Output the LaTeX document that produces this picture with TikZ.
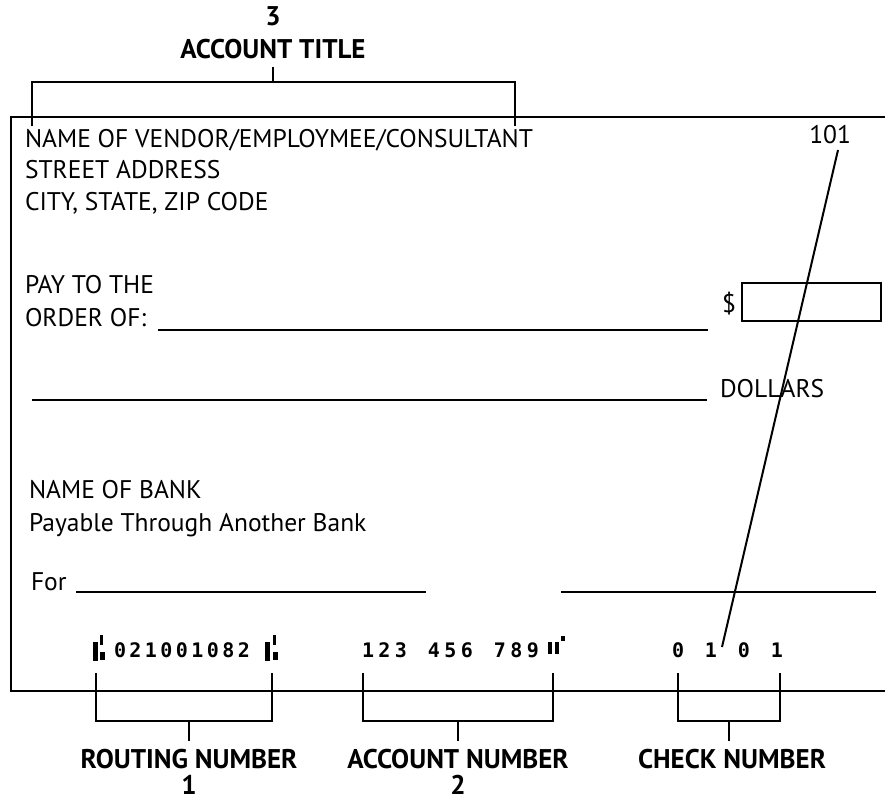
\documentclass[tikz,border=0pt]{standalone}
\usepackage{fontspec}
\setmainfont{PT Sans}
\newfontfamily\micrfont{DejaVu Sans Mono}
\newcommand\mdg[2]{\makebox[#1pt][l]{#2}}
\begin{document}
\begin{tikzpicture}[x=1pt,y=-1pt,line width=2pt,
  txt/.style={anchor=base west,inner sep=0pt,font=\fontsize{25.5}{30}\selectfont},
  lbl/.style={anchor=base,inner sep=0pt,font=\fontsize{27}{32}\selectfont\bfseries},
  micr/.style={anchor=base west,inner sep=0pt,font=\micrfont\fontsize{20}{24}\selectfont\bfseries},
  sym/.style={fill=black,draw=none},
  brk/.style={line width=2pt}]
\path[use as bounding box] (0,0) rectangle (885,801);

% check outline
\draw (885,117) -- (11,117) -- (11,691) -- (885,691);

% texts
\node[txt] (vendor) at (24,147) {NAME OF VENDOR/EMPLOYMEE/CONSULTANT};
\node[txt] (street) at (24,178) {STREET ADDRESS};
\node[txt] (city) at (24,210) {CITY, STATE, ZIP CODE};
\node[txt,anchor=base east] (num) at (852,143) {101};
\node[txt] (pay) at (24,293) {PAY TO THE};
\node[txt] (order) at (24,326) {ORDER OF:};
\node[txt] (dollar) at (721,312) {\$};
\node[draw,minimum width=139pt,minimum height=38pt,inner sep=0pt,anchor=north west] (amount) at (741,282) {};
\node[txt] (dollars) at (719,397) {DOLLARS};
\node[txt] (bank) at (28,498) {NAME OF BANK};
\node[txt] (payable) at (28,531) {Payable Through Another Bank};
\node[txt] (for) at (30,590) {For};

% lines
\draw (158,330) -- (708,330);
\draw (32,400) -- (707,400);
\draw (76,592) -- (426,592);
\draw (561,592) -- (876,592);

% MICR routing
\fill[sym] (93,642) rectangle (98,661);
\fill[sym] (100,635) rectangle (103,645);
\fill[sym] (100,652) rectangle (105,660);
\node[micr] (routing) at (113,657) {\mdg{15.5}{0}\mdg{15.5}{2}\mdg{15.5}{1}\mdg{15.5}{0}\mdg{15.5}{0}\mdg{15.5}{1}\mdg{15.5}{0}\mdg{15.5}{8}\mdg{15.5}{2}};
\fill[sym] (265,642) rectangle (270,661);
\fill[sym] (273,635) rectangle (276,645);
\fill[sym] (273,652) rectangle (278,660);

% MICR account
\node[micr] (account) at (361,657) {\mdg{16.5}{1}\mdg{16.5}{2}\mdg{16.5}{3}\mdg{16.5}{ }\mdg{16.5}{4}\mdg{16.5}{5}\mdg{16.5}{6}\mdg{16.5}{ }\mdg{16.5}{7}\mdg{16.5}{8}\mdg{16.5}{9}};
\fill[sym] (548,642) rectangle (552,654);
\fill[sym] (554.5,642) rectangle (558.5,654);
\fill[sym] (561,636) rectangle (565,641);

% MICR check
\node[micr] (checkno) at (671,657) {\mdg{16.5}{0}\mdg{16.5}{ }\mdg{16.5}{1}\mdg{16.5}{ }\mdg{16.5}{0}\mdg{16.5}{ }\mdg{16.5}{1}};

% diagonal pointer from 101 to the check number
\coordinate (ptr) at (722,647);
\draw (838,150) -- (ptr);

% top bracket
\node[lbl] (three) at (273,25) {3};
\node[lbl] (title) at (273,58) {ACCOUNT TITLE};
\draw[brk] (32,126) -- (32,82) -- (515,82) -- (515,126);
\draw[brk] (273,82) -- (273,67);

% bottom brackets
\draw[brk] (96,673) -- (96,721) -- (272,721) -- (272,673);
\draw[brk] (189,721) -- (189,741);
\draw[brk] (363,673) -- (363,721) -- (553,721) -- (553,673);
\draw[brk] (458,721) -- (458,741);
\draw[brk] (678,673) -- (678,721) -- (780,721) -- (780,673);
\draw[brk] (729,721) -- (729,741);

\node[lbl] (rlabel) at (189,768) {ROUTING NUMBER};
\node[lbl] (one) at (189,794) {1};
\node[lbl] (alabel) at (458,768) {ACCOUNT NUMBER};
\node[lbl] (two) at (458,794) {2};
\node[lbl] (clabel) at (732,768) {CHECK NUMBER};
\end{tikzpicture}
\end{document}
